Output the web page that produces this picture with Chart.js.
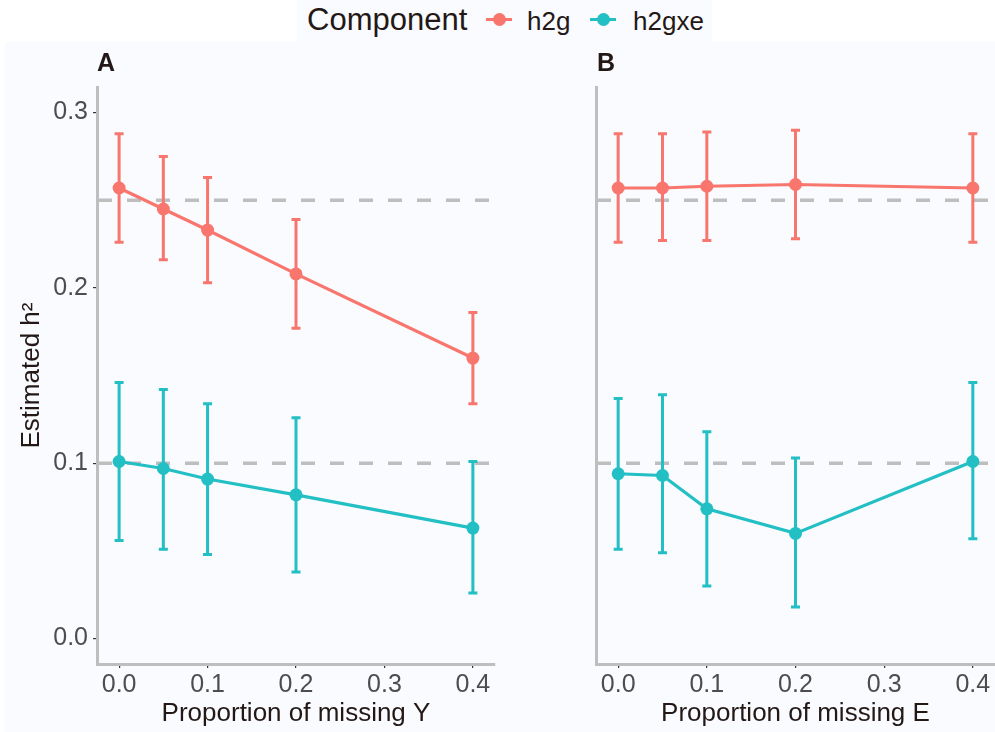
<!DOCTYPE html>
<html>
<head>
<meta charset="utf-8">
<script src="https://cdn.jsdelivr.net/npm/chart.js@4.4.1/dist/chart.umd.min.js"></script>
<style>
  body { margin: 0; background: #ffffff; font-family: "Liberation Sans", Arial, sans-serif; }
  #wrap { position: relative; width: 995px; height: 732px; overflow: hidden; }
  .tint { position: absolute; background: #F9FBFE; }
  .panel { position: absolute; top: 0; height: 732px; }
  .tag { position: absolute; top: 50px; font-size: 25px; font-weight: bold; line-height: 25px; color: #231815; }
  #legend { position: absolute; left: 297px; top: 0; width: 415px; height: 42px; }
  #legend span { position: absolute; top: 0; height: 42px; line-height: 42px; color: #231815; white-space: nowrap; }
  .key { position: absolute; top: 18px; width: 26px; height: 3px; }
  .key i { position: absolute; left: 7px; top: -5px; width: 13px; height: 13px; border-radius: 50%; }
</style>
</head>
<body>
<div id="wrap">
  <div class="tint" style="left:5px;top:42px;right:0;bottom:0;"></div>
  <div class="tint" id="legend">
    <span style="left:10px;font-size:31px;line-height:40px;">Component</span>
    <div class="key" style="left:189px;background:#F8766D;"><i style="background:#F8766D;"></i></div>
    <span style="left:230px;font-size:26px;">h2g</span>
    <div class="key" style="left:293px;background:#22BFC4;"><i style="background:#22BFC4;"></i></div>
    <span style="left:336px;font-size:26px;">h2gxe</span>
  </div>
  <div class="panel" style="left:0;width:500px;"><canvas id="chartA"></canvas></div>
  <div class="panel" style="left:500px;width:495px;"><canvas id="chartB"></canvas></div>
  <div class="tag" style="left:97px;">A</div>
  <div class="tag" style="left:597px;">B</div>
</div>
<script>
// proportion of missing values (x)
const proportions = [0, 0.05, 0.1, 0.2, 0.4];
const xTickValues = [0, 0.1, 0.2, 0.3, 0.4];
const yTickValues = [0, 0.1, 0.2, 0.3];
const trueValues = [0.25, 0.1];   // dashed reference lines

// A: missing Y
const h2gA     = [0.257, 0.245, 0.233, 0.208, 0.160];
const h2gA_lo  = [0.226, 0.216, 0.203, 0.177, 0.134];
const h2gA_hi  = [0.288, 0.275, 0.263, 0.239, 0.186];
const h2gxeA    = [0.101, 0.097, 0.091, 0.082, 0.063];
const h2gxeA_lo = [0.056, 0.051, 0.048, 0.038, 0.026];
const h2gxeA_hi = [0.146, 0.142, 0.134, 0.126, 0.101];

// B: missing E
const h2gB     = [0.257, 0.257, 0.258, 0.259, 0.257];
const h2gB_lo  = [0.226, 0.227, 0.227, 0.228, 0.226];
const h2gB_hi  = [0.288, 0.288, 0.289, 0.290, 0.288];
const h2gxeB    = [0.094, 0.093, 0.074, 0.060, 0.101];
const h2gxeB_lo = [0.051, 0.049, 0.030, 0.018, 0.057];
const h2gxeB_hi = [0.137, 0.139, 0.118, 0.103, 0.146];

const RED = '#F8766D';
const TEAL = '#22BFC4';

function points(ys) {
    return proportions.map((x, i) => ({ x: x, y: ys[i] }));
}

// dashed lines for the true values + error bars, drawn before the lines/points
const extras = {
    id: 'extras',
    beforeDatasetsDraw(chart) {
        const ctx = chart.ctx;
        const area = chart.chartArea;
        const xs = chart.scales.x, ys = chart.scales.y;
        ctx.save();
        ctx.strokeStyle = '#BEBEBE';
        ctx.lineWidth = 3.5;
        ctx.setLineDash([14, 15]);
        trueValues.forEach(v => {
            const py = ys.getPixelForValue(v);
            ctx.beginPath();
            ctx.moveTo(area.left + 1, py);
            ctx.lineTo(area.right, py);
            ctx.stroke();
        });
        ctx.setLineDash([]);
        ctx.lineWidth = 3;
        chart.data.datasets.forEach(ds => {
            ctx.strokeStyle = ds.borderColor;
            ds.lo.forEach((lo, i) => {
                const px = xs.getPixelForValue(proportions[i]);
                const p1 = ys.getPixelForValue(lo);
                const p2 = ys.getPixelForValue(ds.hi[i]);
                ctx.beginPath();
                ctx.moveTo(px, p1); ctx.lineTo(px, p2);
                ctx.moveTo(px - 4.5, p1); ctx.lineTo(px + 4.5, p1);
                ctx.moveTo(px - 4.5, p2); ctx.lineTo(px + 4.5, p2);
                ctx.stroke();
            });
        });
        ctx.restore();
    }
};

function makeChart(id, title, showY, yWidth, padRight, sets) {
    return new Chart(document.getElementById(id), {
        type: 'line',
        data: {
            datasets: sets.map(s => ({
                label: s.label,
                data: points(s.y),
                lo: s.lo,
                hi: s.hi,
                borderColor: s.color,
                backgroundColor: s.color,
                borderWidth: 3.2,
                pointRadius: 6.5,
                pointBorderWidth: 0,
                pointBackgroundColor: s.color,
                tension: 0,
                clip: false
            }))
        },
        options: {
            responsive: true,
            maintainAspectRatio: false,
            animation: false,
            layout: { autoPadding: false, padding: { top: 87, right: padRight, left: 0, bottom: 0 } },
            plugins: { legend: { display: false }, tooltip: { enabled: false } },
            scales: {
                x: {
                    type: 'linear',
                    min: -0.025,
                    max: 0.425,
                    afterBuildTicks: s => { s.ticks = xTickValues.map(v => ({ value: v })); },
                    afterFit: s => { s.height = 68; s.paddingLeft = 0; s.paddingRight = 0; },
                    grid: { display: true, drawOnChartArea: false, drawTicks: true, tickLength: 4, color: '#333333', lineWidth: 1.2 },
                    border: { display: true, color: '#BEBEBE', width: 3 },
                    ticks: {
                        padding: 2,
                        color: '#4D4D4D',
                        font: { family: 'Liberation Sans', size: 25 },
                        callback: v => v.toFixed(1)
                    },
                    title: {
                        display: true,
                        text: title,
                        color: '#231815',
                        font: { family: 'Liberation Sans', size: 26 },
                        padding: { top: 0, bottom: 3 }
                    }
                },
                y: {
                    min: -0.0145,
                    max: 0.3146,
                    afterBuildTicks: s => { s.ticks = yTickValues.map(v => ({ value: v })); },
                    afterFit: s => { s.width = yWidth; s.paddingTop = 0; s.paddingBottom = 0; },
                    grid: { display: showY, drawOnChartArea: false, drawTicks: true, tickLength: 4, color: '#333333', lineWidth: 1.2 },
                    border: { display: true, color: '#BEBEBE', width: 3 },
                    ticks: {
                        display: showY,
                        padding: 5,
                        color: '#4D4D4D',
                        font: { family: 'Liberation Sans', size: 25 },
                        callback: v => v.toFixed(1)
                    },
                    title: {
                        display: showY,
                        text: 'Estimated h²',
                        color: '#231815',
                        font: { family: 'Liberation Sans', size: 26 },
                        padding: { top: 16, bottom: 0 }
                    }
                }
            }
        },
        plugins: [extras]
    });
}

makeChart('chartA', 'Proportion of missing Y', true, 97, 5, [
    { label: 'h2g', y: h2gA, lo: h2gA_lo, hi: h2gA_hi, color: RED },
    { label: 'h2gxe', y: h2gxeA, lo: h2gxeA_lo, hi: h2gxeA_hi, color: TEAL }
]);

makeChart('chartB', 'Proportion of missing E', false, 96, 0, [
    { label: 'h2g', y: h2gB, lo: h2gB_lo, hi: h2gB_hi, color: RED },
    { label: 'h2gxe', y: h2gxeB, lo: h2gxeB_lo, hi: h2gxeB_hi, color: TEAL }
]);
</script>
</body>
</html>
